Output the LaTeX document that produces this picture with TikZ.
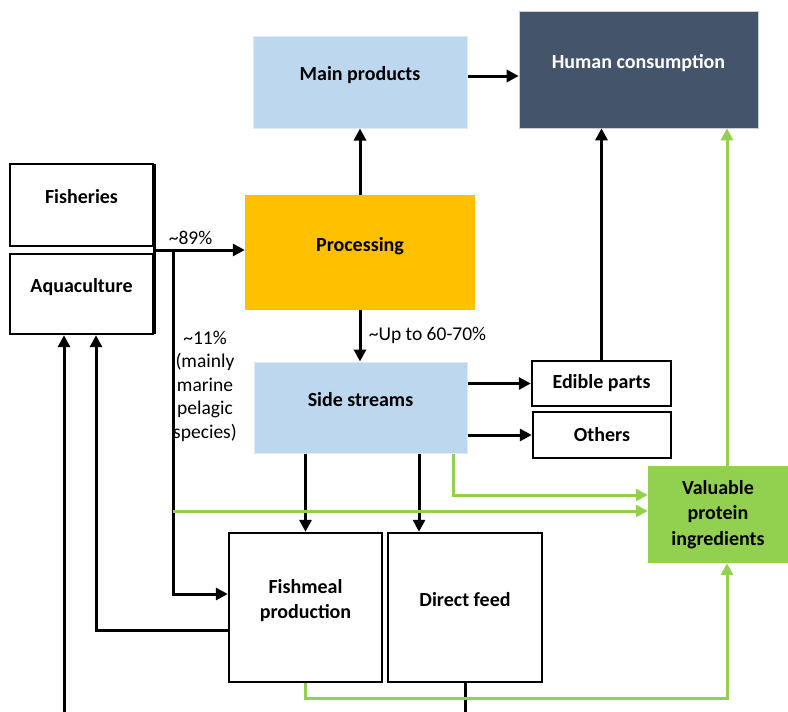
\documentclass[tikz,border=0pt]{standalone}
\usepackage{fontspec}
\setmainfont{Carlito}
\usetikzlibrary{arrows.meta,calc}

\definecolor{mainblue}{HTML}{BDD7EE}
\definecolor{edgeblue}{HTML}{DEEBF7}
\definecolor{procorange}{HTML}{FFC000}
\definecolor{slate}{HTML}{44546A}
\definecolor{leaf}{HTML}{92D050}

\tikzset{
  every node/.style={font=\fontsize{20}{25.5}\selectfont\bfseries, align=center},
  plainbox/.style={draw=black, line width=2.4pt, text depth=17pt},
  smallbox/.style={draw=black, line width=2.4pt},
  bluebox/.style={fill=mainblue, draw=edgeblue, line width=1pt, text depth=17pt},
  note/.style={font=\fontsize{19.5}{23.5}\selectfont},
  flow/.style={draw=black, line width=3pt, -{Triangle[length=12pt,width=12pt]}},
  link/.style={draw=black, line width=3pt},
  leafline/.style={draw=leaf, line width=3pt, -{Triangle[length=12pt,width=12pt]}}
}

\begin{document}
\begin{tikzpicture}[x=1pt,y=-1pt]
  \useasboundingbox (0,0) rectangle (788,712);

  % sources
  \node [plainbox, minimum width=143pt, minimum height=82pt] (fish) at (81.5,205) {Fisheries};
  \node [plainbox, minimum width=143pt, minimum height=80pt] (aqua) at (81.5,294) {Aquaculture};
  \draw [link] ([yshift=-1.2pt]fish.north east) -- ([yshift=1.2pt]aqua.south east);

  % processing chain
  \node [fill=procorange, minimum width=230pt, minimum height=115pt, text depth=17pt] (proc) at (360,252.5) {Processing};
  \node [bluebox, minimum width=214pt, minimum height=92pt] (main) at (360,82) {Main products};
  \node [fill=slate, draw=gray!40, line width=0.6pt, text=white, minimum width=239pt, minimum height=117pt, text depth=17pt] (human) at (638.5,69.5) {Human consumption};
  \node [bluebox, minimum width=213pt, minimum height=91pt] (side) at (360.5,407.5) {Side streams};
  \node [smallbox, minimum width=139pt, minimum height=45pt] (edible) at (601.5,383.5) {Edible parts};
  \node [smallbox, minimum width=138pt, minimum height=46pt] (others) at (602,435) {Others};
  \node [fill=leaf, minimum width=140pt, minimum height=97pt] (value) at (718,514.5) {Valuable\\protein\\ingredients};

  % feed
  \node [plainbox, minimum width=153pt, minimum height=149pt] (meal) at (305.5,607.5) {Fishmeal\\production};
  \node [plainbox, minimum width=154pt, minimum height=149pt] (direct) at (465,607.5) {Direct feed};

  % helper points
  \coordinate (src) at ($(fish.south east)!0.5!(aqua.north east)$);
  \coordinate (split) at ($(src)+(19,0)$);
  \coordinate (feedin) at (64,712);
  \coordinate (m1) at ([yshift=6pt]main.east);
  \coordinate (v1) at ([yshift=19.5pt]value.west);
  \coordinate (v2) at ([yshift=3.5pt]value.west);
  \coordinate (v3) at ([xshift=9pt]value.north);
  \coordinate (v4) at ([xshift=9pt]value.south);
  \coordinate (d1) at ([xshift=-46pt]direct.north);

  % black flows
  \draw [flow] (src) -- (src -| proc.west) node [note, midway, above=1pt, xshift=-9pt] (share89) {\textasciitilde 89\%};
  \draw [flow] (split) |- ([yshift=13.5pt]meal.west);
  \node [note] (share11) at (205,386) {\textasciitilde 11\%\\(mainly\\marine\\pelagic\\species)};
  \draw [flow] (proc.north) -- (main.south);
  \draw [flow] (m1) -- (m1 -| human.west);
  \draw [flow] (proc.south) -- (proc.south |- side.north) node [note, midway, right=4pt] (share60) {\textasciitilde Up to 60-70\%};
  \draw [flow] (edible.west -| side.east) -- (edible.west);
  \draw [flow] (others.west -| side.east) -- (others.west);
  \draw [flow] (edible.north) -- (edible.north |- human.south);
  \draw [flow] (meal.north |- side.south) -- (meal.north);
  \draw [flow] (d1 |- side.south) -- (d1);
  \draw [flow] ([yshift=-22.5pt]meal.west) -| ([xshift=14.5pt]aqua.south);
  \draw [flow] (feedin) -- (feedin |- aqua.south);
  \draw [link] (direct.south) -- (direct.south |- feedin);

  % green flows
  \draw [leafline] ([xshift=92.5pt]side.south) |- (v1);
  \draw [leafline] (split |- v2) -- (v2);
  \draw [leafline] (v3) -- (v3 |- human.south);
  \draw [leafline] (meal.south) -- ++(0,15) -| (v4);
\end{tikzpicture}
\end{document}
